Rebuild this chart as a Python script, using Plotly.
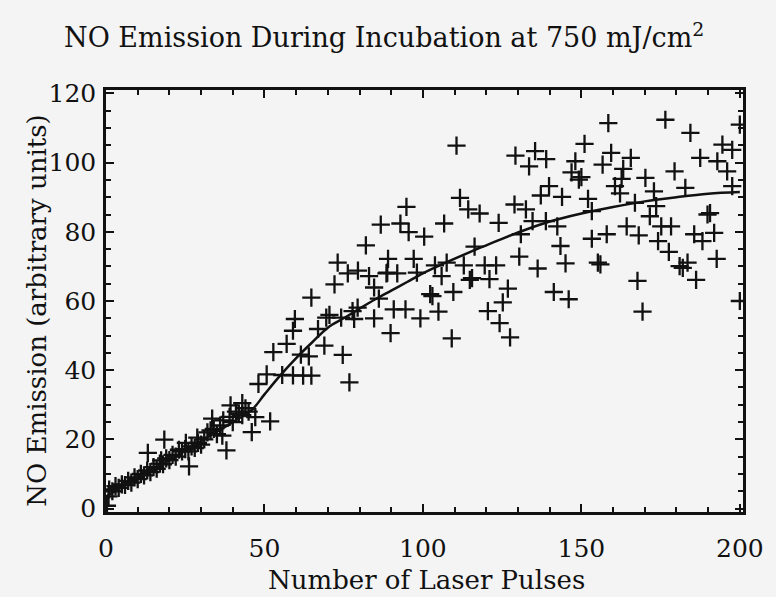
import plotly.graph_objects as go

# ---- data ----
pulses = [
    0.3, 0.8, 1, 2, 3, 4, 5, 6, 7, 8, 9, 10, 11, 12, 13, 14, 15, 16, 17, 18, 19, 20,
    21, 22, 23, 24, 25, 26, 27, 28, 29, 30, 31, 32, 34, 35, 36, 37, 39, 40, 41, 43, 44, 45,
    13.2, 18.4, 17.4, 26.2, 25.2, 28.8, 33.5, 33.0, 36.7, 38.0, 39.3, 43.0, 41.9, 47.1,
    51.8, 46.0, 48.1, 50.7, 55.6, 59.0, 62.2, 64.8, 52.8, 57.0, 59.0, 59.6, 61.5, 64.0,
    64.8, 66.9, 69.5, 70.5, 74.2, 77.8, 78.3, 68.9, 74.7, 76.8, 72.1, 73.1, 76.3, 79.5,
    83.0, 89.0, 88.75,
    110.6, 129.2, 111.7, 114.3, 117.9, 128.9, 132.5, 123.9, 94.8, 86.7, 92.9, 95.5, 100.4,
    106.7, 82.0, 116.3, 130.9, 130.4, 97.1, 103.8, 107.5, 112.9, 119.5, 123.1, 88.5,
    91.9, 98.1, 105.9, 114.8, 115.5, 121.0, 84.6, 86.1, 79.4, 84.6, 90.8, 94.5, 102.3,
    103.0, 109.6, 104.9, 99.2, 89.8, 109.1, 126.8, 125.2, 120.5, 124.2, 127.5,
    158.5, 176.5, 184.4, 151.0, 135.4, 133.5, 138.9, 148.1, 146.9, 149.2, 150.0, 159.4,
    156.7, 165.6, 163.2, 162.7, 160.6, 162.2, 170.2, 172.9, 179.4, 187.5, 182.8, 194.5,
    192.9, 197.6, 196.0, 197.6, 139.8, 137.2, 143.9, 152.1, 153.3, 166.9, 173.6, 171.6,
    134.6, 138.8, 142.4, 143.4, 145.0, 136.2, 153.3, 158.0, 155.2, 156.0, 164.3, 168.1,
    175.2, 178.3, 174.2, 177.6, 181.0, 182.0, 183.5, 185.6, 188.2, 191.9, 189.8, 190.6,
    192.7, 186.2, 167.7, 169.3, 141.3, 146.0, 200.0, 200.0,
]
emission = [
    0.8, 3.5, 5.5, 5.0, 6.5, 6.0, 7.0, 6.8, 8.0, 7.5, 9.0, 8.5, 10.0, 9.6, 11.0, 10.5,
    12.0, 11.5, 13.0, 12.8, 14.5, 14.0, 15.5, 15.0, 17.0, 16.5, 17.2, 16.5, 18.0, 17.5,
    19.0, 18.5, 20.0, 22.0, 23.0, 21.5, 24.0, 25.5, 26.5, 25.0, 28.0, 27.0, 29.0, 28.0,
    16.1, 19.9, 13.9, 12.2, 19.0, 20.5, 26.0, 22.6, 21.1, 16.8, 29.8, 30.5, 27.4, 26.4,
    25.2, 22.1, 36.0, 38.8, 38.6, 38.5, 38.4, 38.4, 45.2, 47.6, 51.4, 54.8, 44.5, 44.0,
    61.0, 51.9, 55.2, 56.0, 55.2, 57.1, 54.8, 47.1, 44.4, 36.5, 64.8, 71.1, 68.0, 68.8,
    67.2, 72.2, 68.2,
    104.9, 102.0, 89.8, 86.5, 85.3, 87.9, 86.5, 82.6, 87.2, 82.1, 82.4, 79.9, 78.6,
    82.4, 76.1, 75.7, 79.3, 72.8, 72.2, 70.3, 71.1, 70.3, 70.3, 70.3, 68.0,
    68.0, 68.2, 67.2, 66.1, 66.6, 66.3, 63.9, 60.7, 58.1, 55.0, 57.6, 57.6, 62.0,
    61.4, 62.6, 56.9, 55.0, 50.7, 49.2, 63.6, 59.6, 57.1, 53.6, 49.5,
    111.4, 112.4, 108.6, 105.4, 103.3, 98.9, 101.0, 100.4, 97.2, 95.1, 95.8, 102.8,
    99.4, 101.4, 98.2, 95.3, 93.2, 91.1, 95.6, 91.7, 97.5, 101.4, 92.7, 105.2,
    100.4, 103.7, 97.5, 93.2, 93.2, 90.5, 90.1, 89.5, 86.0, 88.4, 87.4, 84.5,
    83.1, 83.1, 81.6, 75.9, 70.9, 69.4, 78.0, 79.3, 71.1, 70.6, 81.6, 79.0,
    81.6, 81.6, 77.3, 74.2, 70.1, 69.6, 71.1, 79.3, 77.3, 79.7, 85.0, 85.4,
    72.2, 66.1, 65.8, 56.9, 62.6, 60.5, 111.0, 60.0,
]
fit_x = [0, 10, 20, 30, 40, 46, 50, 55, 60, 65, 70, 75, 80, 85, 90, 95, 100, 107,
         115, 120, 130, 140, 150, 160, 170, 180, 190, 200]
fit_y = [3.5, 8.8, 14.0, 19.5, 25.0, 28.5, 33.0, 38.5, 43.5, 48.0, 52.3, 55.0, 57.8,
         60.5, 63.0, 65.5, 68.0, 71.0, 74.2, 76.1, 79.8, 83.0, 85.3, 87.2, 88.8, 90.0,
         91.0, 91.5]
x_ticks = [0, 50, 100, 150, 200]
y_ticks = [0, 20, 40, 60, 80, 100, 120]

INK = "#111111"
FONT = "DejaVu Serif"

fig = go.Figure()
fig.add_trace(go.Scatter(
    x=pulses, y=emission, mode="markers",
    marker=dict(symbol="cross-thin", size=13, line=dict(width=2.3, color=INK)),
    showlegend=False, hoverinfo="skip"))
fig.add_trace(go.Scatter(
    x=fit_x, y=fit_y, mode="lines", line=dict(color=INK, width=2.5, shape="spline"),
    showlegend=False, hoverinfo="skip"))

axis_common = dict(
    showline=True, linecolor=INK, linewidth=2.5, mirror="ticks",
    ticks="inside", tickcolor=INK, tickwidth=2, ticklen=8,
    showgrid=False, zeroline=False,
    tickfont=dict(family=FONT, size=25, color=INK),
)
fig.update_xaxes(range=[0, 201], tickvals=x_ticks, ticklabelstandoff=12,
                 minor=dict(dtick=10, ticks="inside", ticklen=5, tickcolor=INK, tickwidth=2),
                 **axis_common)
fig.update_yaxes(range=[-1, 121], tickvals=y_ticks, ticklabelstandoff=2,
                 minor=dict(dtick=5, ticks="inside", ticklen=5, tickcolor=INK, tickwidth=2),
                 **axis_common)

fig.update_layout(
    width=776, height=597,
    margin=dict(l=106, r=26, t=90, b=85),
    paper_bgcolor="#f4f4f4", plot_bgcolor="#f4f4f4",
    font=dict(family=FONT, color=INK),
    annotations=[
        dict(text="NO Emission During Incubation at 750 mJ/cm<sup>2</sup>",
             xref="paper", yref="paper", x=(387 - 106) / 644, y=(512 - 36) / 422,
             showarrow=False, font=dict(family=FONT, size=27, color=INK),
             xanchor="center", yanchor="middle"),
        dict(text="Number of Laser Pulses",
             xref="paper", yref="paper", x=(430 - 106) / 644, y=(512 - 580) / 422,
             showarrow=False, font=dict(family=FONT, size=26, color=INK),
             xanchor="center", yanchor="middle"),
        dict(text="NO Emission (arbitrary units)", textangle=-90,
             xref="paper", yref="paper", x=(36 - 106) / 644, y=(512 - 311) / 422,
             showarrow=False, font=dict(family=FONT, size=26, color=INK),
             xanchor="center", yanchor="middle"),
    ],
)

fig.write_html("out.html")
